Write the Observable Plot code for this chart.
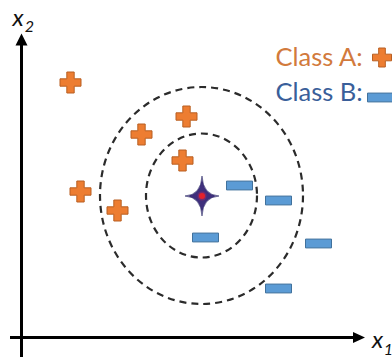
<!DOCTYPE html>
<html>
<head>
<meta charset="utf-8">
<script src="https://cdn.jsdelivr.net/npm/d3@7"></script>
<script src="https://cdn.jsdelivr.net/npm/@observablehq/plot@0.6"></script>
<style>
  html, body { margin: 0; padding: 0; background: #fff; }
</style>
</head>
<body>
<div id="chart"></div>
<script>
// Two-feature training set for a k-nearest-neighbours illustration.
const classA_x1 = [4.9, 12.0, 16.5, 16.1, 5.9, 9.6];
const classA_x2 = [25.5, 20.3, 22.1, 17.7, 14.6, 12.7];
const classB_x1 = [21.8, 25.7, 18.4, 29.7, 25.7];
const classB_x2 = [15.2, 13.7, 10.0, 9.4, 4.9];

// The new point to classify, and the two neighbourhoods drawn around it.
const query = [18.05, 14.15];
const ringRx = [5.55, 10.15];
const ringRy = [6.2, 10.85];

const legendLabels = ["Class A:", "Class B:"];
const axisNames = ["x", "x"];
const axisIndices = ["1", "2"];

const pointsA = classA_x1.map((v, i) => ({x1: v, x2: classA_x2[i]}));
const pointsB = classB_x1.map((v, i) => ({x1: v, x2: classB_x2[i]}));

// Custom glyphs (d3 symbol types), sized from the dot radius.
const rad = (size) => Math.sqrt(size / Math.PI);
const plusSymbol = {
  draw(ctx, size) {
    const r = rad(size), t = r * 0.35;
    ctx.moveTo(-r, -t); ctx.lineTo(-t, -t); ctx.lineTo(-t, -r); ctx.lineTo(t, -r);
    ctx.lineTo(t, -t); ctx.lineTo(r, -t); ctx.lineTo(r, t); ctx.lineTo(t, t);
    ctx.lineTo(t, r); ctx.lineTo(-t, r); ctx.lineTo(-t, t); ctx.lineTo(-r, t);
    ctx.closePath();
  }
};
const dashSymbol = {
  draw(ctx, size) {
    const r = rad(size), h = r * 0.34;
    ctx.rect(-r, -h, 2 * r, 2 * h);
  }
};
const starSymbol = {
  draw(ctx, size) {
    const r = rad(size), w = r * 0.85, c = r * 0.05;
    ctx.moveTo(0, -r);
    ctx.quadraticCurveTo(c, -c, w, 0);
    ctx.quadraticCurveTo(c, c, 0, r);
    ctx.quadraticCurveTo(-c, c, -w, 0);
    ctx.quadraticCurveTo(-c, -c, 0, -r);
    ctx.closePath();
  }
};
const arrowUp = {
  draw(ctx, size) {
    const r = rad(size);
    ctx.moveTo(0, 0); ctx.lineTo(r / 2, r); ctx.lineTo(-r / 2, r); ctx.closePath();
  }
};
const arrowRight = {
  draw(ctx, size) {
    const r = rad(size);
    ctx.moveTo(0, 0); ctx.lineTo(-r, r * 0.46); ctx.lineTo(-r, -r * 0.46); ctx.closePath();
  }
};

// Dashed neighbourhood ellipses, placed through the plot's x and y scales.
function rings(index, scales) {
  const {x, y} = scales;
  const cx = x(query[0]), cy = y(query[1]);
  const g = d3.create("svg:g");
  g.selectAll("ellipse")
    .data(ringRx.map((rx, i) => [rx, ringRy[i]]))
    .join("ellipse")
    .attr("cx", cx)
    .attr("cy", cy)
    .attr("rx", d => x(query[0] + d[0]) - cx)
    .attr("ry", d => y(query[1] - d[1]) - cy)
    .attr("fill", "none")
    .attr("stroke", "#2b2b2b")
    .attr("stroke-width", 2.2)
    .attr("stroke-dasharray", "7,5");
  return g.node();
}

const orange = "#ED7D31", orangeEdge = "#B85F22";
const blue = "#5B9BD5", blueEdge = "#41719C";

const chart = Plot.plot({
  width: 392,
  height: 361,
  marginLeft: 21,
  marginRight: 28,
  marginTop: 33,
  marginBottom: 24,
  x: {domain: [0, 34.3], axis: null},
  y: {domain: [0, 30.4], axis: null},
  style: {background: "#fff", overflow: "visible"},
  marks: [
    // axes with filled arrowheads
    Plot.ruleX([0], {y1: -2.0, y2: 29.6, stroke: "#000", strokeWidth: 3}),
    Plot.ruleY([0], {x1: -1.1, x2: 33.6, stroke: "#000", strokeWidth: 3}),
    Plot.dot([[0, 30.4]], {x: d => d[0], y: d => d[1], symbol: arrowUp, r: 12, fill: "#000", stroke: "none"}),
    Plot.dot([[34.35, 0]], {x: d => d[0], y: d => d[1], symbol: arrowRight, r: 12, fill: "#000", stroke: "none"}),

    rings,

    Plot.dot(pointsA, {x: "x1", y: "x2", symbol: plusSymbol, r: 10.5, fill: orange, stroke: orangeEdge, strokeWidth: 1}),
    Plot.dot(pointsB, {x: "x1", y: "x2", symbol: dashSymbol, r: 13, fill: blue, stroke: blueEdge, strokeWidth: 1}),

    // query point: dark four-pointed star with a red core
    Plot.dot([query], {x: d => d[0], y: d => d[1], symbol: starSymbol, r: 20, fill: "#3f2f7c", stroke: "#2a2a66", strokeWidth: 0.6}),
    Plot.dot([query], {x: d => d[0], y: d => d[1], r: 4.5, fill: "#8a2a6a", stroke: "none", fillOpacity: 0.7}),
    Plot.dot([query], {x: d => d[0], y: d => d[1], r: 3, fill: "#e3222c", stroke: "none"}),

    // legend
    Plot.text([legendLabels[0]], {x: 25.4, y: 28.0, text: d => d, textAnchor: "start", fontSize: 25.5, fontFamily: "Lato", fill: "#D27A3C"}),
    Plot.text([legendLabels[1]], {x: 25.4, y: 24.45, text: d => d, textAnchor: "start", fontSize: 25.5, fontFamily: "Lato", fill: "#3A5F9A"}),
    Plot.dot([[36.05, 28.0]], {x: d => d[0], y: d => d[1], symbol: plusSymbol, r: 9.5, fill: orange, stroke: orangeEdge, strokeWidth: 1}),
    Plot.dot([[35.9, 24.0]], {x: d => d[0], y: d => d[1], symbol: dashSymbol, r: 13, fill: blue, stroke: blueEdge, strokeWidth: 1}),

    // axis names with subscripts
    Plot.text([axisNames[0]], {x: 35.6, y: -0.3, text: d => d, fontSize: 24, fontStyle: "italic", fontFamily: "Lato", fill: "#111"}),
    Plot.text([axisIndices[0]], {x: 36.7, y: -1.2, text: d => d, fontSize: 16, fontStyle: "italic", fontFamily: "Lato", fill: "#111"}),
    Plot.text([axisNames[1]], {x: -0.35, y: 31.9, text: d => d, fontSize: 24, fontStyle: "italic", fontFamily: "Lato", fill: "#111"}),
    Plot.text([axisIndices[1]], {x: 0.8, y: 31.05, text: d => d, fontSize: 16, fontStyle: "italic", fontFamily: "Lato", fill: "#111"})
  ]
});

document.getElementById("chart").append(chart);
</script>
</body>
</html>
